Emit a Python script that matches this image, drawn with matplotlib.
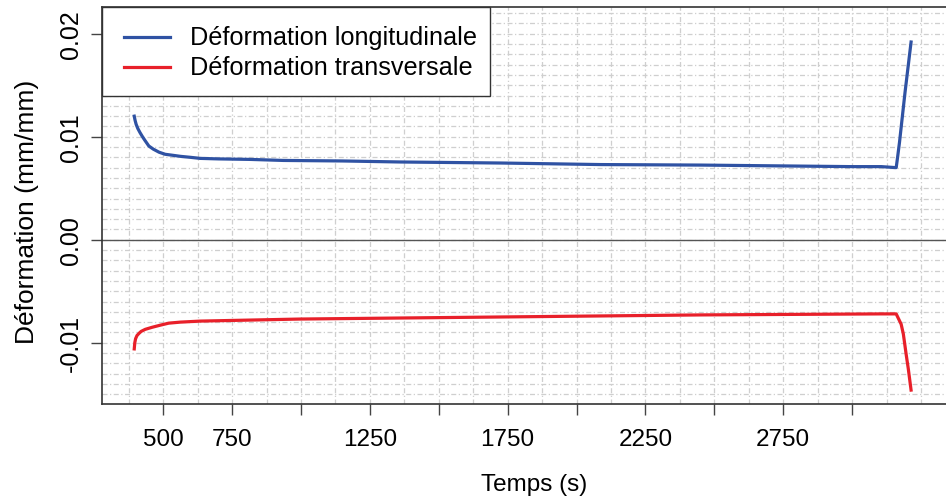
import matplotlib
matplotlib.use("Agg")
import matplotlib.pyplot as plt
from matplotlib.patches import Rectangle
from matplotlib.lines import Line2D

plt.rcParams['font.family'] = ['Liberation Sans', 'DejaVu Sans']

# Longitudinal strain (blue)
t_long = [395, 398, 402, 408, 416, 425, 435, 448, 464, 485, 507, 535, 562, 600, 634, 700,
          816, 936, 1150, 1361, 1725, 2088, 2451, 2997, 3106, 3160, 3165, 3172, 3192, 3214]
e_long = [0.0120, 0.0116, 0.0112, 0.0108, 0.0104, 0.0100, 0.0096, 0.0091, 0.0088, 0.0085,
          0.0083, 0.0082, 0.0081, 0.0080, 0.0079, 0.00785, 0.0078, 0.0077, 0.00765, 0.00755,
          0.00745, 0.0073, 0.00725, 0.0071, 0.0071, 0.0070, 0.0080, 0.00946, 0.0143, 0.0192]

# Transverse strain (red)
t_trans = [395, 397, 400, 405, 412, 420, 435, 460, 489, 520, 562, 634, 816, 998, 1361,
           1725, 2451, 3106, 3160, 3178, 3186, 3196, 3204, 3214]
e_trans = [-0.0106, -0.0100, -0.0096, -0.0093, -0.0091, -0.0089, -0.0087, -0.0085, -0.0083,
           -0.0081, -0.0080, -0.0079, -0.0078, -0.0077, -0.0076, -0.0075, -0.0073, -0.0072,
           -0.0072, -0.0082, -0.00916, -0.0111, -0.01255, -0.0146]

series_names = ['Déformation longitudinale', 'Déformation transversale']
series_colors = ['#2f52a3', '#e8202a']

x_ticks = [500, 750, 1000, 1250, 1500, 1750, 2000, 2250, 2500, 2750, 3000]
x_labels = ['500', '750', '', '1250', '', '1750', '', '2250', '', '2750', '']
y_ticks = [-0.01, 0.0, 0.01, 0.02]
y_labels = ['-0.01', '0.00', '0.01', '0.02']

W, H = 946, 502
fig = plt.figure(figsize=(W / 100, H / 100), dpi=100)
left, right, top, bottom = 102, 948, 8, 405
ax = fig.add_axes([left / W, 1 - bottom / H, (right - left) / W, (bottom - top) / H])

ax.set_xlim(278, 3348)
ax.set_ylim(-0.01595, 0.0226)

grid_col = '#cfcfcf'
gx = [375 + 125 * i for i in range(0, 25)]
for g in gx:
    ax.axvline(g, color=grid_col, lw=0.9, ls=(0, (4, 2, 1, 2)), zorder=0)
gy = [round(-0.015 + 0.001 * i, 4) for i in range(0, 38)]
for g in gy:
    ax.axhline(g, color=grid_col, lw=0.9, ls=(0, (4, 2, 1, 2)), zorder=0)
ax.axhline(0, color='#555555', lw=1.0, zorder=1)

ax.plot(t_long, e_long, color=series_colors[0], lw=2.3, zorder=3, solid_joinstyle='round')
ax.plot(t_trans, e_trans, color=series_colors[1], lw=2.3, zorder=3, solid_joinstyle='round')

ax.set_xticks(x_ticks)
ax.set_xticklabels(x_labels)
ax.set_yticks(y_ticks)
ax.set_yticklabels(y_labels, rotation=90, va='center')
ax.tick_params(axis='x', length=8, width=1, color='#444444', labelsize=17.5, pad=9)
ax.tick_params(axis='y', length=8, width=1, color='#444444', labelsize=18, pad=6)

for s in ['left', 'bottom', 'top']:
    ax.spines[s].set_color('#333333')
    ax.spines[s].set_linewidth(1.2)
ax.spines['right'].set_visible(False)

ax.set_xlabel('Temps (s)', fontsize=17.5, labelpad=17, x=0.5106)
ax.set_ylabel('Déformation (mm/mm)', fontsize=19, labelpad=14, y=0.4874)

# Legend drawn in figure pixel coordinates (R-style box)
def fx(px):
    return px / W

def fy(py):
    return 1 - py / H

box = Rectangle((fx(102), fy(97)), fx(490) - fx(102), fy(8) - fy(97), transform=fig.transFigure,
                facecolor='white', edgecolor='#333333', lw=1.0, zorder=10)
fig.patches.append(box)
for i, (name, col) in enumerate(zip(series_names, series_colors)):
    yy = fy(38 + 30 * i)
    fig.lines.append(Line2D([fx(124), fx(170)], [yy, yy], transform=fig.transFigure,
                            color=col, lw=2.3, zorder=11))
    fig.text(fx(190), yy, name, fontsize=18.2, va='center', ha='left', zorder=12)

fig.savefig('out.png', dpi=100)
